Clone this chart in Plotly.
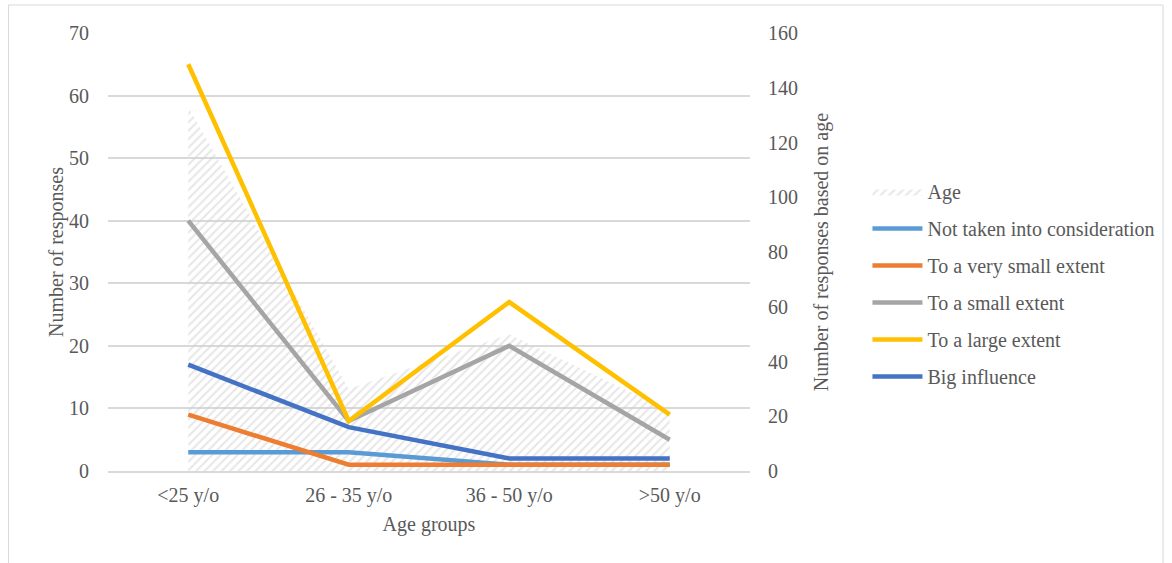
import plotly.graph_objects as go

# Age groups and response counts
age_groups = ["<25 y/o", "26 - 35 y/o", "36 - 50 y/o", ">50 y/o"]
age_totals = [133, 30, 50, 22]

not_considered = [3, 3, 1, 1]
very_small = [9, 1, 1, 1]
small = [40, 8, 20, 5]
large = [65, 8, 27, 9]
big_influence = [17, 7, 2, 2]

series = [
    ("Not taken into consideration", not_considered, "#5B9BD5"),
    ("To a very small extent", very_small, "#ED7D31"),
    ("To a small extent", small, "#A5A5A5"),
    ("To a large extent", large, "#FFC000"),
    ("Big influence", big_influence, "#4472C4"),
]

W, H = 1172, 563
L, R, T, B = 108, 753, 33, 471  # plot area in pixels
TXT = "#595959"
FONT = "Times New Roman, Liberation Serif, DejaVu Serif, serif"

fig = go.Figure()

# Hatched area for total responses per age group (right-hand scale)
fig.add_trace(go.Scatter(
    x=age_groups, y=age_totals, name="Age", yaxis="y",
    mode="lines", line=dict(width=0, color="rgba(0,0,0,0)"),
    fill="tozeroy", fillcolor="rgba(0,0,0,0)",
    fillpattern=dict(shape="/", fgcolor="#cfcfcf", bgcolor="rgba(255,255,255,0)",
                     size=6, solidity=0.35),
    legendgroup="age",
))

# Response lines (left-hand scale)
for name, vals, color in series:
    fig.add_trace(go.Scatter(
        x=age_groups, y=vals, name=name, yaxis="y2",
        mode="lines", line=dict(color=color, width=4.5),
        legendgroup=name,
    ))

def px_x(p):
    return (p - L) / (R - L)

def px_y(p):
    return (B - p) / (B - T)

fig.update_layout(
    width=W, height=H,
    margin=dict(l=L, r=W - R, t=T, b=H - B),
    paper_bgcolor="white", plot_bgcolor="white",
    font=dict(family=FONT, size=20, color=TXT),
    xaxis=dict(
        type="category", range=[-0.5, 3.5],
        showgrid=False, showline=True, linecolor="#d9d9d9", linewidth=1.5,
        ticks="", ticklabelstandoff=5,
        title=dict(text="Age groups", standoff=11, font=dict(family=FONT, size=20, color=TXT)),
        tickfont=dict(family=FONT, size=20, color=TXT),
    ),
    yaxis=dict(
        side="right", range=[0, 160], dtick=20, showgrid=False, zeroline=False,
        ticks="", ticklabelstandoff=17,
        title=dict(text="Number of responses based on age", standoff=16,
                   font=dict(family=FONT, size=20, color=TXT)),
        tickfont=dict(family=FONT, size=20, color=TXT),
    ),
    yaxis2=dict(
        overlaying="y", side="left", range=[0, 70], dtick=10,
        showgrid=True, gridcolor="#d9d9d9", gridwidth=1.5, zeroline=False,
        ticks="", ticklabelstandoff=18,
        title=dict(text="Number of responses", standoff=0,
                   font=dict(family=FONT, size=20, color=TXT)),
        tickfont=dict(family=FONT, size=20, color=TXT),
    ),
    legend=dict(
        x=px_x(871), y=px_y(172), xanchor="left", yanchor="top",
        font=dict(family=FONT, size=20, color=TXT), itemwidth=50,
        tracegroupgap=8, bgcolor="rgba(0,0,0,0)",
    ),
    showlegend=True,
    shapes=[dict(
        type="rect", xref="paper", yref="paper",
        x0=px_x(8), x1=px_x(1168), y0=px_y(575), y1=px_y(5),
        line=dict(color="#d9d9d9", width=1), layer="below",
    )],
)

fig.write_html("out.html")
